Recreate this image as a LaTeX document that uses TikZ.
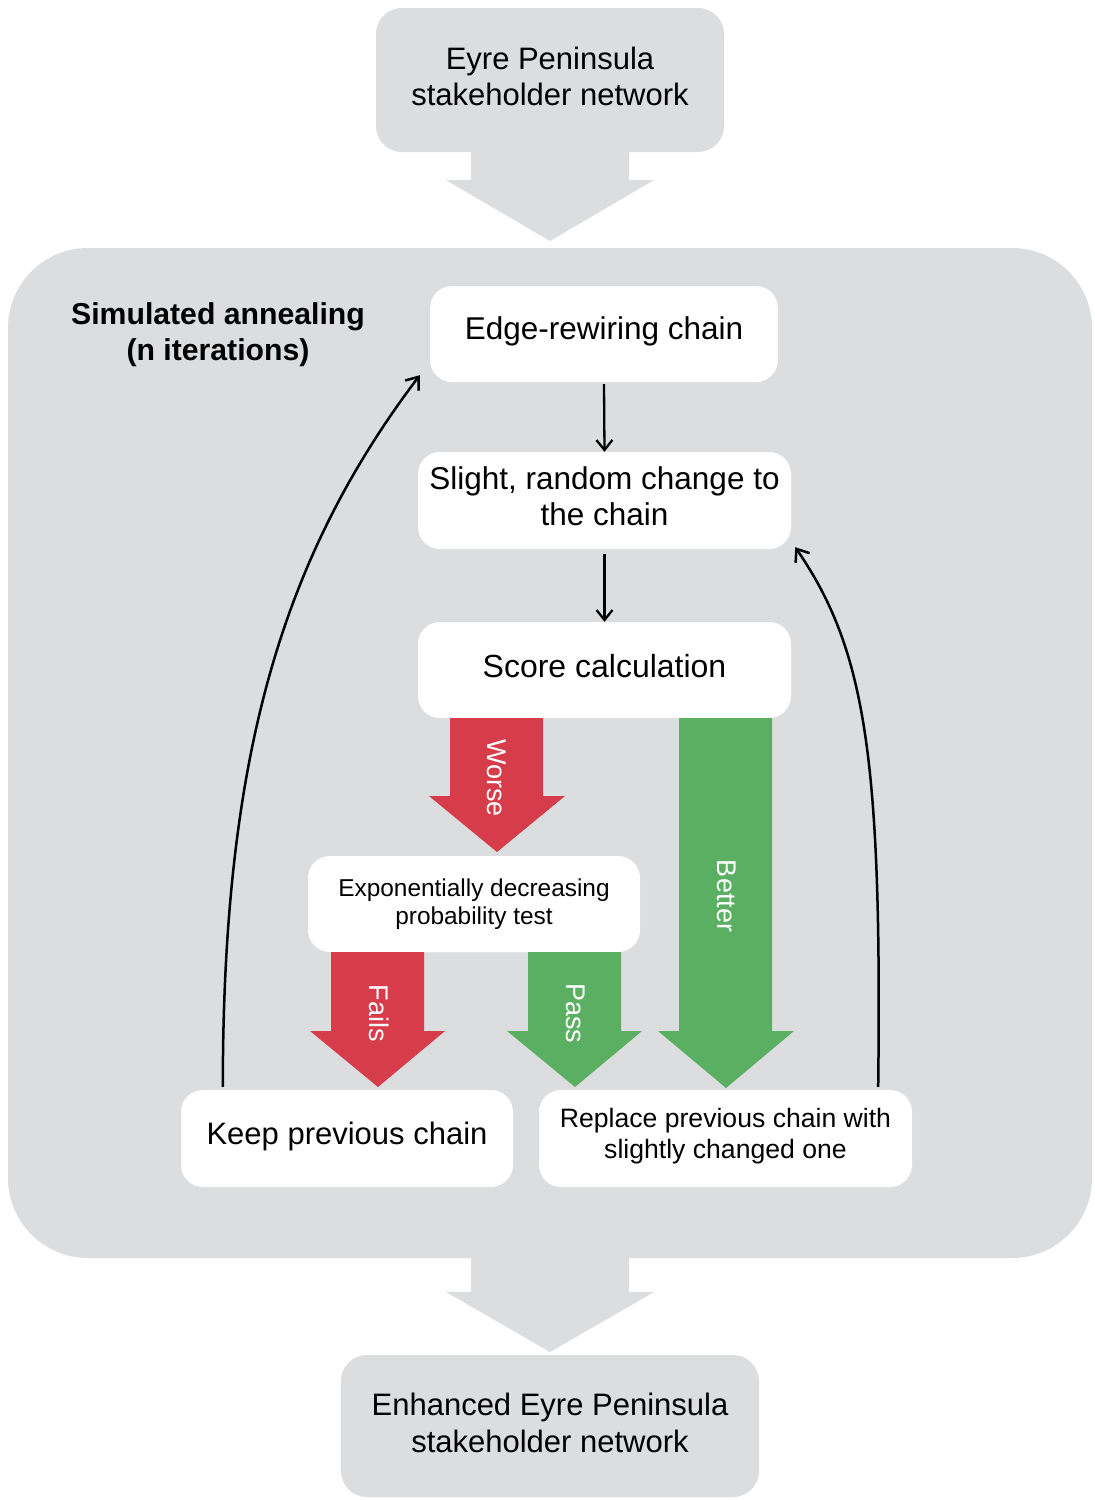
\documentclass[tikz,border=0pt]{standalone}
\usepackage{fontspec}
\setmainfont{Liberation Sans}
\usetikzlibrary{arrows.meta,calc}
\definecolor{panel}{HTML}{DCDDDF}
\definecolor{badred}{HTML}{D63C4A}
\definecolor{goodgreen}{HTML}{5BAF62}
\tikzset{
  pane/.style={fill=panel, draw=none, rounded corners=26pt, align=center,
    font=\fontsize{31}{36}\selectfont, inner sep=0pt},
  stepbox/.style={fill=white, draw=none, rounded corners=22pt, align=center,
    font=\fontsize{31.5}{36}\selectfont, inner sep=0pt},
  flow/.style={line width=2.3pt, -{Straight Barb[length=10pt,width=16pt,line width=2.3pt]}},
  loop/.style={line width=2.5pt, -{Straight Barb[length=11pt,width=17pt,line width=2.5pt]}},
  blocklbl/.style={text=white, font=\fontsize{27}{30}\selectfont, rotate=-90, inner sep=0pt},
}
\begin{document}
\begin{tikzpicture}[x=1pt,y=-1pt]
\useasboundingbox (0,0) rectangle (1095,1500);
\fill[white] (0,0) rectangle (1095,1500);

% outer loop container
\fill[panel, rounded corners=80pt] (8,248) rectangle (1092,1258);

% input network and arrow into the loop
\node[pane, minimum width=348pt, minimum height=144pt, text depth=8pt] (input) at (550,80)
  {Eyre Peninsula\\stakeholder network};
\fill[panel] (471,150) -- (629,150) -- (629,180) -- (654,180) -- (550,241)
  -- (446,180) -- (471,180) -- cycle;

% output arrow and enhanced network
\fill[panel] (471,1256) -- (629,1256) -- (629,1292) -- (654,1292) -- (550,1352)
  -- (446,1292) -- (471,1292) -- cycle;
\node[pane, minimum width=418pt, minimum height=142pt, text depth=7pt,
  font=\fontsize{31}{37}\selectfont] (output) at (550,1426)
  {Enhanced Eyre Peninsula\\stakeholder network};

% title of the loop
\node[align=center, font=\bfseries\fontsize{30.2}{36}\selectfont] (title) at (218,335)
  {Simulated annealing\\(n iterations)};

% steps of the loop
\node[stepbox, minimum width=348pt, minimum height=96pt, text depth=11.6pt] (edge) at (604,334)
  {Edge-rewiring chain};
\node[stepbox, minimum width=373pt, minimum height=97pt, text depth=8pt] (change) at (604.5,500.5)
  {Slight, random change to\\the chain};
\node[stepbox, minimum width=373pt, minimum height=96pt, text depth=8pt,
  font=\fontsize{32}{36}\selectfont] (score) at (604.5,670)
  {Score calculation};
\node[stepbox, minimum width=332pt, minimum height=96pt,
  font=\fontsize{24.4}{28}\selectfont] (prob) at (474,904)
  {Exponentially decreasing\\probability test};
\node[stepbox, minimum width=332pt, minimum height=97pt, text depth=10.5pt,
  font=\fontsize{31}{36}\selectfont] (keep) at (347,1138.5)
  {Keep previous chain};
\node[stepbox, minimum width=373pt, minimum height=97pt, text depth=9.6pt,
  font=\fontsize{26.6}{31}\selectfont] (replace) at (725.5,1138.5)
  {Replace previous chain with\\slightly changed one};

\draw[flow] (edge.south) ++(0,2) -- (change.north);
\draw[flow] (change.south) ++(0,5) -- (score.north);

% outcome block arrows
\fill[badred] (450,718) -- (543,718) -- (543,796) -- (565,796) -- (497,852)
  -- (429,796) -- (450,796) -- cycle;
\node[blocklbl] (worse) at (497,778) {Worse};
\fill[badred] (331,952) -- (424,952) -- (424,1031) -- (445,1031) -- (378,1087)
  -- (310,1031) -- (331,1031) -- cycle;
\node[blocklbl] (fails) at (379,1013) {Fails};
\fill[goodgreen] (528,952) -- (621,952) -- (621,1031) -- (642,1031) -- (575,1087)
  -- (507,1031) -- (528,1031) -- cycle;
\node[blocklbl] (pass) at (576,1013) {Pass};
\fill[goodgreen] (679,718) -- (772,718) -- (772,1031) -- (794,1031) -- (726,1088)
  -- (658,1031) -- (679,1031) -- cycle;
\node[blocklbl] (better) at (727,896) {Better};

% iteration feedback arrows
\coordinate (keepout) at ($(keep.north west)+(42,-3)$);
\coordinate (edgein) at ($(edge.south west)+(-10,-7)$);
\draw[loop] (keepout) .. controls (223,760) and (280,560) .. (edgein);
\coordinate (replout) at ($(replace.north east)+(-34,-3)$);
\coordinate (changein) at ($(change.south east)+(4,-2)$);
\draw[loop] (replout) .. controls (882,760) and (866,650) .. (changein);
\end{tikzpicture}
\end{document}
